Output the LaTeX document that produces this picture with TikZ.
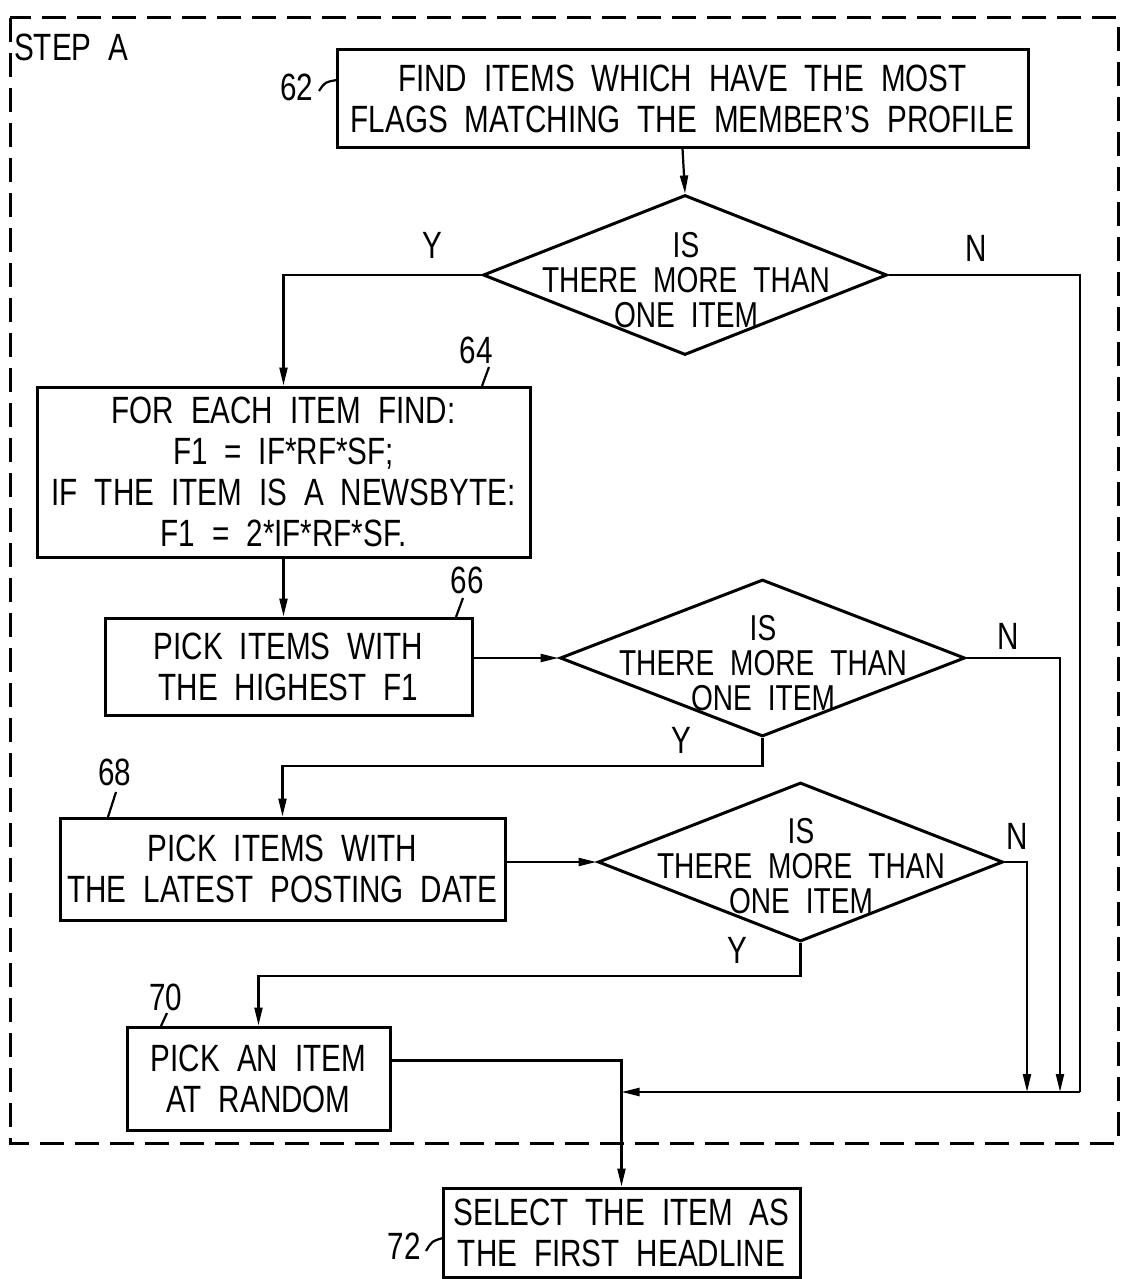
\documentclass[tikz,border=0pt]{standalone}
\usepackage{fontspec}
\setmainfont{Liberation Sans}[FakeStretch=0.78]
\usetikzlibrary{shapes.geometric,arrows.meta}
\newcommand\pfont{\fontsize{38}{41}\selectfont\spaceskip=17pt plus 3pt minus 3pt\relax}
\newcommand\dfont{\fontsize{36}{35}\selectfont\spaceskip=16pt plus 3pt minus 3pt\relax}
\tikzset{
  stepbox/.style={draw,line width=3pt,minimum width=#1,inner sep=0pt,align=center,font=\pfont},
  decide/.style={draw,diamond,line width=3pt,inner sep=0pt,aspect=2.5},
  dtext/.style={align=center,font=\dfont,inner sep=0pt},
  conn/.style={line width=2.2pt},
  arr/.style={line width=2.2pt,-{Triangle[length=18pt,width=8pt]}},
  lbl/.style={font=\pfont,inner sep=0pt},
  tick/.style={line width=2.2pt},
}
\begin{document}
\begin{tikzpicture}[x=1pt,y=-1pt]
\useasboundingbox (0,0) rectangle (1129,1279);
% dashed frame
\draw[line width=3pt,dash pattern=on 24pt off 11pt] (10,18) rectangle (1118,1143);
\node[lbl,anchor=west] (stepA) at (14,47) {STEP A};

% boxes
\node[stepbox=691pt,minimum height=97pt] (b62) at (682.5,98.5) {FIND ITEMS WHICH HAVE THE MOST\\FLAGS MATCHING THE MEMBER’S PROFILE};
\node[stepbox=493pt,minimum height=170pt] (b64) at (283.5,472) {FOR EACH ITEM FIND:\\F1 = IF*RF*SF;\\IF THE ITEM IS A NEWSBYTE:\\F1 = 2*IF*RF*SF.};
\node[stepbox=367pt,minimum height=97pt] (b66) at (288.5,666.5) {PICK ITEMS WITH\\THE HIGHEST F1};
\node[stepbox=445pt,minimum height=102pt] (b68) at (282.5,869) {PICK ITEMS WITH\\THE LATEST POSTING DATE};
\node[stepbox=263pt,minimum height=103pt] (b70) at (258.5,1078.5) {PICK AN ITEM\\AT RANDOM};
\node[stepbox=357pt,minimum height=89pt] (b72) at (621.5,1232.5) {SELECT THE ITEM AS\\THE FIRST HEADLINE};

% diamonds
\node[decide,minimum width=404pt,minimum height=160pt] (d1) at (685,275) {};
\node[dtext] (t1) at (686,280) {IS\\THERE MORE THAN\\ONE ITEM};
\node[decide,minimum width=405pt,minimum height=157pt] (d2) at (762.5,658) {};
\node[dtext] (t2) at (763,663) {IS\\THERE MORE THAN\\ONE ITEM};
\node[decide,minimum width=405pt,minimum height=159pt] (d3) at (800.5,862) {};
\node[dtext] (t3) at (801,866) {IS\\THERE MORE THAN\\ONE ITEM};

% reference numerals
\node[lbl] (n62) at (297,87) {62};
\node[lbl] (n64) at (476,350) {64};
\node[lbl] (n66) at (467,580) {66};
\node[lbl] (n68) at (115,772) {68};
\node[lbl] (n70) at (166,997) {70};
\node[lbl] (n72) at (404,1246) {72};
\draw[tick] (319,91) .. controls (325,82) .. (337,80);
\draw[tick] (489,367) -- (482,386);
\draw[tick] (463,598) -- (456,617);
\draw[tick] (116,792) -- (108,817);
\draw[tick] (167,1013) -- (161,1026);
\draw[tick] (426,1251) .. controls (432,1241) .. (443,1238);

% Y / N labels
\node[lbl] (y1) at (432,245) {Y};
\node[lbl] (nn1) at (976,248) {N};
\node[lbl] (nn2) at (1008,636) {N};
\node[lbl] (y2) at (681,740) {Y};
\node[lbl] (nn3) at (1017,836) {N};
\node[lbl] (y3) at (737,950) {Y};

% helper coordinates
\coordinate (ret) at (1080,1092);
\coordinate (r2) at (1060,1092);
\coordinate (r3) at (1027,1092);
\coordinate (merge) at (b72.north |- ret);

% connectors
\draw[arr] (b62.south) -- (d1.north);
\draw[arr] (d1.west) -| (b64.north);
\draw[conn] (d1.east) -| (ret);
\draw[arr] (ret) -- (merge);
\draw[arr] (b64.south) -- (b64.south |- b66.north);
\draw[arr] (d2.west -| b66.east) -- (d2.west);
\draw[arr] (d2.east) -| (r2);
\draw[arr] (d2.south) -- ++(0,28) -| (b68.north);
\draw[arr] (d3.west -| b68.east) -- (d3.west);
\draw[arr] (d3.east) -| (r3);
\draw[arr] (d3.south) -- ++(0,33) -| (b70.north);
\draw[arr] ([yshift=18pt]b70.east) -| (b72.north);
\end{tikzpicture}
\end{document}
